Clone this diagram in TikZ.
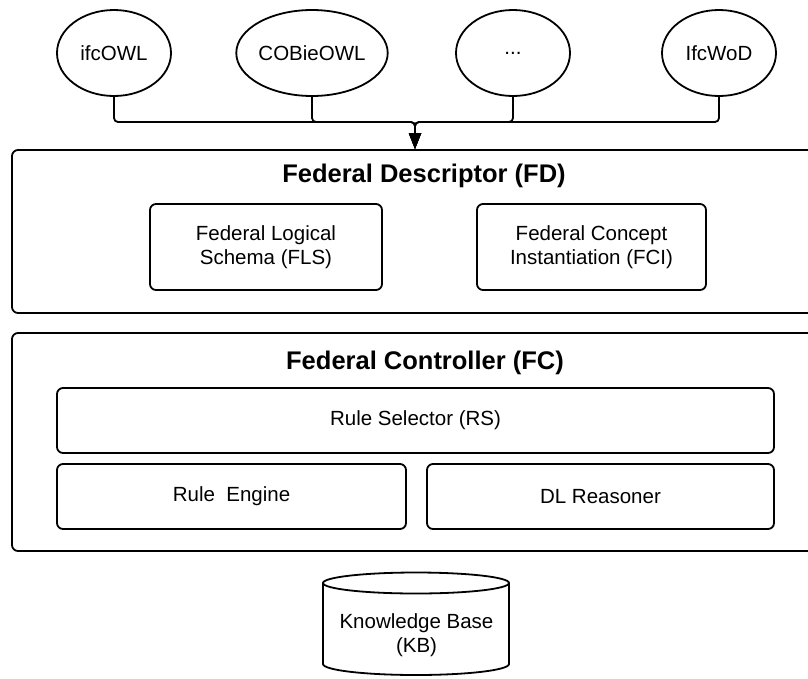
\documentclass[tikz,border=0pt]{standalone}
\usepackage{fontspec}
\setmainfont{Liberation Sans}
\usetikzlibrary{arrows.meta,shapes.geometric}

\begin{document}
\begin{tikzpicture}[x=1pt,y=-1pt,
  onto/.style = {draw, ellipse, minimum width=114pt, minimum height=86pt, inner sep=0pt},
  box/.style = {draw, rounded corners=6pt, inner sep=0pt, align=center},
  title/.style = {font=\fontsize{25.5}{30}\selectfont\bfseries},
  conn/.style = {rounded corners=4pt, -{Triangle[length=16pt,width=12pt]}},
  line width=1.8pt, font=\fontsize{20.5}{24}\selectfont]
\useasboundingbox (0,0) rectangle (808,678);
% ontologies
\node[onto] (ifc) at (114,53) {ifcOWL};
\node[onto] (cobie) at (312,53) {COBieOWL};
\node[onto] (more) at (513,53) {...};
\node[onto] (wod) at (719,53) {IfcWoD};
% descriptor
\node[box, minimum width=824pt, minimum height=163pt] (fd) at (424,231.5) {};
\node[title] (fdtitle) at (424,176) {Federal Descriptor (FD)};
\node[box, minimum width=232pt, minimum height=86pt] (fls) at (266,247) {Federal Logical\\Schema (FLS)};
\node[box, minimum width=229pt, minimum height=86pt] (fci) at (591.5,247) {Federal Concept\\Instantiation (FCI)};
% controller
\node[box, minimum width=824pt, minimum height=218pt] (fc) at (424,442) {};
\node[title] (fctitle) at (425,363) {Federal Controller (FC)};
\node[box, minimum width=717pt, minimum height=65pt] (rs) at (415.5,420.5) {Rule Selector (RS)};
\node[box, minimum width=349pt, minimum height=65pt] (re) at (231.5,496.5) {Rule\ \ Engine};
\node[box, minimum width=347pt, minimum height=65pt] (dl) at (600.5,496.5) {DL Reasoner};
% knowledge base
\node[align=center] (kb) at (416.5,635) {Knowledge Base\\(KB)};
\draw (416,583) ellipse[x radius=93pt, y radius=10.5pt];
\draw (323,583) -- (323,664) arc[start angle=180, end angle=360, x radius=93pt, y radius=11pt] -- (509,583);
% links
\coordinate (hub) at (415,122);
\draw[conn] (ifc.south) |- (hub) -- (hub |- fd.north);
\draw[conn] (cobie.south) |- (hub) -- (hub |- fd.north);
\draw[conn] (more.south) |- (hub) -- (hub |- fd.north);
\draw[conn] (wod.south) |- (hub) -- (hub |- fd.north);
\end{tikzpicture}
\end{document}
